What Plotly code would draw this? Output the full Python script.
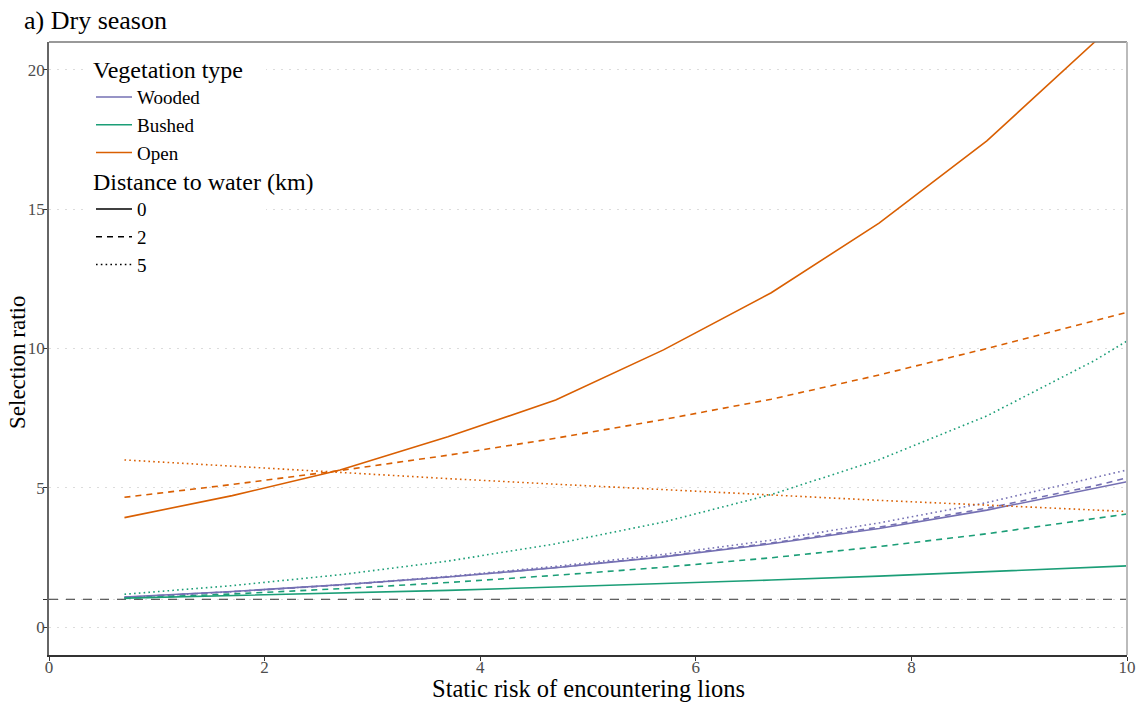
import plotly.graph_objects as go

# ---- data ----
risk = [0.7, 1.7, 2.7, 3.7, 4.7, 5.7, 6.7, 7.7, 8.7, 9.7, 10.0]

wooded_0 = [1.08, 1.28, 1.52, 1.80, 2.13, 2.52, 2.99, 3.54, 4.20, 4.97, 5.22]
wooded_2 = [1.07, 1.27, 1.51, 1.80, 2.14, 2.54, 3.02, 3.59, 4.27, 5.07, 5.36]
wooded_5 = [1.06, 1.27, 1.52, 1.82, 2.18, 2.61, 3.12, 3.74, 4.47, 5.35, 5.64]

bushed_0 = [1.04, 1.13, 1.22, 1.32, 1.44, 1.56, 1.69, 1.83, 1.98, 2.15, 2.20]
bushed_2 = [1.03, 1.19, 1.38, 1.60, 1.86, 2.15, 2.49, 2.89, 3.35, 3.88, 4.06]
bushed_5 = [1.18, 1.49, 1.88, 2.37, 2.99, 3.77, 4.76, 6.01, 7.58, 9.57, 10.27]

open_0 = [3.93, 4.72, 5.64, 6.83, 8.15, 9.95, 12.0, 14.5, 17.45, 21.0, 22.3]
open_2 = [4.66, 5.12, 5.62, 6.17, 6.78, 7.45, 8.18, 9.05, 10.0, 11.0, 11.3]
open_5 = [6.0, 5.77, 5.55, 5.33, 5.13, 4.93, 4.74, 4.55, 4.38, 4.2, 4.15]

vegetation = ["Wooded", "Bushed", "Open"]
distances = ["0", "2", "5"]
reference_ratio = 1.0
x_ticks = [0, 2, 4, 6, 8, 10]
y_ticks = [0, 1, 5, 10, 15, 20]
y_ticktext = ["0", "", "5", "10", "15", "20"]

series = {
    "Wooded": [wooded_0, wooded_2, wooded_5],
    "Bushed": [bushed_0, bushed_2, bushed_5],
    "Open": [open_0, open_2, open_5],
}

# ---- styles ----
colors = {"Wooded": "#7570B3", "Bushed": "#1B9E77", "Open": "#D95F02"}
dashes = {"0": "solid", "2": "6px,5px", "5": "1.6px,3.2px"}
FONT = "Liberation Serif, Times New Roman, serif"

W, H = 1144, 704
PL, PR, PT, PB = 49, 1127, 42, 655          # plot area (px)
ML, MT, MR, MB = PL, PT, W - PR, H - PB
PW, PH = PR - PL, PB - PT


def px_x(sx):
    return (sx - PL) / PW


def px_y(sy):
    return (PB - sy) / PH


fig = go.Figure()

# reference line at ratio 1
fig.add_trace(go.Scatter(
    x=[0, 10], y=[reference_ratio, reference_ratio], mode="lines",
    line=dict(color="#333333", width=1, dash="9px,8px"),
    showlegend=False, hoverinfo="skip"))

for veg in vegetation:
    for d, vals in zip(distances, series[veg]):
        fig.add_trace(go.Scatter(
            x=risk, y=vals, mode="lines",
            line=dict(color=colors[veg], width=1.6, dash=dashes[d]),
            name=f"{veg}, {d} km", showlegend=False))

# legend entries
for veg in vegetation:
    fig.add_trace(go.Scatter(
        x=[None], y=[None], mode="lines", name=veg,
        line=dict(color=colors[veg], width=1.6),
        legend="legend", showlegend=True))
for d in distances:
    fig.add_trace(go.Scatter(
        x=[None], y=[None], mode="lines", name=d,
        line=dict(color="black", width=1.6, dash=dashes[d]),
        legend="legend2", showlegend=True))

fig.update_layout(
    width=W, height=H,
    margin=dict(l=ML, r=MR, t=MT, b=MB, autoexpand=False),
    paper_bgcolor="white", plot_bgcolor="white",
    font=dict(family=FONT, color="black"),
    xaxis=dict(range=[0, 10], tickvals=x_ticks, showgrid=False, zeroline=False,
               showline=True, linecolor="#333333", linewidth=1.5, automargin=False,
               ticks="outside", ticklen=4, tickcolor="#333333", tickwidth=1,
               ticklabelstandoff=-8,
               tickfont=dict(size=17, color="#4d4d4d", family=FONT)),
    yaxis=dict(range=[-1, 21], tickvals=y_ticks, ticktext=y_ticktext,
               showgrid=True, gridcolor="#dcdcdc", griddash="2px,6px", gridwidth=1,
               zeroline=False, automargin=False,
               showline=True, linecolor="#666666", linewidth=1.5,
               ticks="outside", ticklen=4, tickcolor="#333333", tickwidth=1,
               ticklabelstandoff=-5,
               tickfont=dict(size=17, color="#4d4d4d", family=FONT)),
    legend=dict(x=px_x(91), y=px_y(47), xanchor="left", yanchor="top",
                bgcolor="rgba(0,0,0,0)", borderwidth=0, itemwidth=36,
                title=dict(text="Vegetation type", font=dict(size=24, family=FONT)),
                font=dict(size=19, family=FONT)),
    legend2=dict(x=px_x(91), y=px_y(159), xanchor="left", yanchor="top",
                 bgcolor="rgba(0,0,0,0)", borderwidth=0, itemwidth=36,
                 title=dict(text="Distance to water (km)", font=dict(size=24, family=FONT)),
                 font=dict(size=19, family=FONT)),
    annotations=[
        dict(text="a) Dry season", xref="paper", yref="paper",
             x=px_x(22), y=px_y(20), xanchor="left", yanchor="middle",
             showarrow=False, font=dict(size=26, family=FONT, color="black")),
        dict(text="Static risk of encountering lions", xref="paper", yref="paper",
             x=0.5, y=px_y(688), xanchor="center", yanchor="middle",
             showarrow=False, font=dict(size=24.5, family=FONT, color="black")),
        dict(text="Selection ratio", xref="paper", yref="paper", textangle=-90,
             x=px_x(17), y=px_y(362), xanchor="center", yanchor="middle",
             showarrow=False, font=dict(size=23, family=FONT, color="black")),
    ],
    shapes=[
        # white backing behind the legends (hides the dotted grid there)
        dict(type="rect", xref="paper", yref="paper",
             x0=px_x(88), x1=px_x(266), y0=px_y(272), y1=px_y(50),
             fillcolor="white", line=dict(width=0), layer="above"),
        dict(type="line", xref="paper", yref="paper", x0=0, x1=1, y0=1, y1=1,
             line=dict(color="#777777", width=1.5)),
        dict(type="line", xref="paper", yref="paper", x0=1, x1=1, y0=0, y1=1,
             line=dict(color="#bbbbbb", width=2)),
    ],
)

# remove the default 8px page margin so the figure fills the window exactly
fig.write_html("out.html",
               config={"displayModeBar": False},
               post_script="document.body.style.margin='0';"
                           "document.body.style.overflow='hidden';")
